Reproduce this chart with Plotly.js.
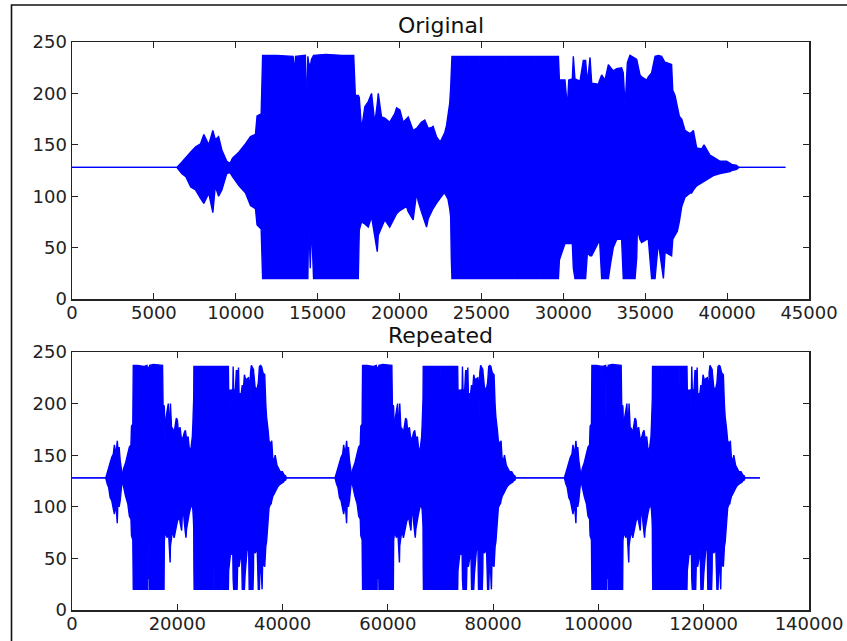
<!DOCTYPE html>
<html>
<head>
<meta charset="utf-8">
<script src="https://cdn.plot.ly/plotly-3.0.1.min.js"></script>
<style>
  html, body { margin: 0; padding: 0; background: #ffffff; }
  #chart { width: 847px; height: 641px; }
</style>
</head>
<body>
<div id="chart"></div>
<script>
// Envelope of the 8-bit audio clip: sample index, highest and lowest sample value around it.
const sampleAt = [
  0, 6400, 6700, 6950, 7250, 7550, 7850, 8050, 8350, 8600, 8750, 8950, 9150, 9450, 9650, 9800,
  10200, 10600, 10900, 11200, 11300, 11550, 11640, 12500, 13500, 13580, 13650, 14250, 14320, 14400,
  14450, 14550, 14620, 14750, 15500, 16500, 17200, 17300, 17480, 17540, 17680, 17880, 18090, 18290,
  18490, 18640, 18700, 18900, 19100, 19400, 19700, 19820, 20020, 20220, 20430, 20530, 20830, 21040,
  21140, 21330, 21540, 21650, 21750, 21960, 22050, 22250, 22460, 22560, 22660, 22760, 22860, 22960,
  23060, 23120, 23160, 23200, 24180, 24220, 24260, 24900, 24930, 24970, 26320, 26360, 26400, 26940,
  26970, 27000, 28150, 28190, 28230, 28480, 28500, 28530, 29700, 29760, 30100, 30245, 30330, 30550,
  30610, 30710, 31020, 31220, 31360, 31470, 31630, 31730, 32140, 32200, 32340, 32545, 32750, 32890,
  33050, 33260, 33460, 33560, 33660, 33770, 33910, 34070, 34380, 34480, 34520, 34680, 34780, 35090,
  35190, 35390, 35600, 35800, 36000, 36110, 36210, 36270, 36610, 36680, 36820, 36960, 37080, 37160,
  37230, 37430, 37730, 37830, 37940, 38140, 38450, 38590, 38850, 38950, 39160, 39570, 39970, 40180,
  40280, 40580, 40720, 43559
];
const peakHigh = [
  128, 128, 133, 138, 143, 148, 151, 160, 150, 164, 155, 158, 145, 134, 132, 137,
  143, 151, 158, 160, 178, 180, 237, 237, 236, 220, 236, 237, 182, 236,
  230, 226, 233, 237, 238, 237, 237, 198, 198, 196, 165, 187, 192, 200,
  171, 190, 200, 177, 176, 172, 180, 186, 184, 172, 176, 177, 164, 166,
  168, 172, 174, 170, 166, 167, 168, 158, 153, 155, 158, 162, 168, 180,
  190, 205, 236, 236, 236, 220, 236, 236, 220, 236, 236, 226, 236, 236,
  236, 236, 236, 216, 236, 236, 236, 236, 236, 213, 213, 186, 213, 214,
  236, 214, 212, 232, 232, 210, 235, 210, 209, 212, 218, 213, 228, 225,
  222, 224, 225, 225, 220, 187, 230, 237, 234, 233, 230, 218, 216, 213,
  216, 220, 236, 237, 236, 232, 230, 230, 228, 203, 198, 187, 178, 176,
  175, 164, 161, 162, 164, 147, 146, 150, 142, 140, 138, 134, 134, 132,
  131, 130, 128, 128
];
const peakLow = [
  128, 128, 122, 119, 109, 106, 98, 93, 103, 84, 110, 100, 106, 122, 123, 119,
  110, 103, 91, 88, 72, 68, 20, 20, 20, 20, 20, 20, 20, 20,
  78, 30, 75, 20, 20, 20, 20, 20, 20, 67, 75, 73, 70, 80,
  60, 46, 62, 70, 77, 70, 80, 83, 86, 88, 90, 85, 77, 103,
  95, 85, 75, 70, 78, 86, 88, 93, 98, 100, 102, 103, 100, 97,
  88, 80, 40, 20, 20, 20, 20, 20, 20, 20, 20, 20, 20, 20,
  48, 20, 20, 20, 20, 20, 35, 20, 20, 38, 54, 54, 54, 54,
  30, 20, 20, 20, 20, 45, 42, 42, 55, 62, 20, 20, 20, 35,
  50, 58, 58, 58, 20, 20, 20, 20, 20, 40, 68, 58, 55, 58,
  58, 20, 20, 55, 30, 20, 45, 45, 42, 58, 62, 66, 75, 85,
  90, 99, 103, 103, 106, 110, 113, 114, 117, 118, 120, 122, 123, 124,
  125, 126, 128, 128
];
// Number of samples in one clip and how many times it is repeated below.
const clipLength = 43560;
const copies = 3;

const xTicksTop = [0, 5000, 10000, 15000, 20000, 25000, 30000, 35000, 40000, 45000];
const xTicksBottom = [0, 20000, 40000, 60000, 80000, 100000, 120000, 140000];
const yTicks = [0, 50, 100, 150, 200, 250];

const blue = '#0000ff';

// Tile the clip envelope end to end for the repeated signal.
const repX = [], repHigh = [], repLow = [];
for (let k = 0; k < copies; k++) {
  for (let i = 0; i < sampleAt.length; i++) {
    repX.push(sampleAt[i] + k * clipLength);
    repHigh.push(peakHigh[i]);
    repLow.push(peakLow[i]);
  }
}

function band(x, lo, hi, xa, ya) {
  return [
    { x: x, y: lo, xaxis: xa, yaxis: ya, type: 'scatter', mode: 'lines',
      line: { color: blue, width: 1.4 }, hoverinfo: 'skip', showlegend: false },
    { x: x, y: hi, xaxis: xa, yaxis: ya, type: 'scatter', mode: 'lines',
      line: { color: blue, width: 1.4 }, fill: 'tonexty', fillcolor: blue,
      hoverinfo: 'skip', showlegend: false }
  ];
}

const data = [].concat(
  band(sampleAt, peakLow, peakHigh, 'x', 'y'),
  band(repX, repLow, repHigh, 'x2', 'y2')
);

const tickFont = { family: 'DejaVu Sans', size: 18, color: '#222222' };
const axisCommon = {
  showgrid: false, zeroline: false, showline: true, linecolor: '#222222', linewidth: 1.5,
  mirror: 'ticks', ticks: 'inside', ticklen: 6, tickwidth: 1, tickcolor: '#222222',
  tickfont: tickFont, tickmode: 'array', tickformat: 'd'
};

const plotTop = 42, plotBottom = 610, plotLeft = 72, plotRight = 809;
const H = plotBottom - plotTop, W = plotRight - plotLeft;

const layout = {
  width: 847, height: 641,
  margin: { l: plotLeft, r: 847 - plotRight, t: plotTop, b: 641 - plotBottom, pad: 0 },
  paper_bgcolor: '#ffffff', plot_bgcolor: '#ffffff',
  font: { family: 'DejaVu Sans', color: '#222222' },
  xaxis: Object.assign({}, axisCommon, { domain: [0, 1], range: [0, 45000], tickvals: xTicksTop, anchor: 'y', ticklabelstandoff: -3 }),
  yaxis: Object.assign({}, axisCommon, { domain: [(plotBottom - 299) / H, 1], range: [0, 250], tickvals: yTicks, anchor: 'x' }),
  xaxis2: Object.assign({}, axisCommon, { domain: [0, 1], range: [0, 140000], tickvals: xTicksBottom, anchor: 'y2', ticklabelstandoff: -3 }),
  yaxis2: Object.assign({}, axisCommon, { domain: [0, (plotBottom - 352) / H], range: [0, 250], tickvals: yTicks, anchor: 'x2' }),
  annotations: [
    { text: 'Original', xref: 'paper', yref: 'paper', x: 0.5, y: 1, yanchor: 'bottom', yshift: 2,
      showarrow: false, font: { family: 'DejaVu Sans', size: 22, color: '#111111' } },
    { text: 'Repeated', xref: 'paper', yref: 'paper', x: 0.5, y: (plotBottom - 352) / H, yanchor: 'bottom', yshift: 2,
      showarrow: false, font: { family: 'DejaVu Sans', size: 22, color: '#111111' } }
  ],
  shapes: [
    // figure frame along the left and top edges
    { type: 'path', xref: 'paper', yref: 'paper',
      path: 'M ' + ((11.5 - plotLeft) / W) + ',' + ((plotBottom - 660) / H) +
            ' L ' + ((11.5 - plotLeft) / W) + ',' + ((plotBottom - 5) / H) +
            ' L ' + ((870 - plotLeft) / W) + ',' + ((plotBottom - 5) / H),
      line: { color: '#111111', width: 1.6 } }
  ]
};

Plotly.newPlot('chart', data, layout, { staticPlot: true, displayModeBar: false });
</script>
</body>
</html>
